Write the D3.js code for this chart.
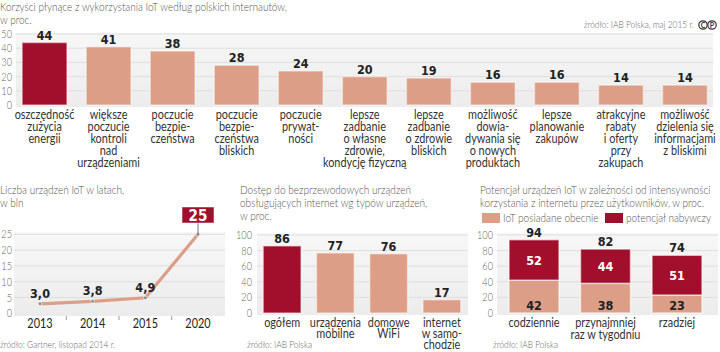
<!DOCTYPE html>
<html>
<head>
<meta charset="utf-8">
<script src="https://cdn.jsdelivr.net/npm/d3@7"></script>
<style>
  body { margin: 0; background: #fff; }
  svg text { font-family: Lato, "DejaVu Sans", sans-serif; }
  .ttl { fill: #555; font-size: 12px; font-weight: 300; }
  .src { fill: #666; font-size: 10px; font-weight: 300; }
  .tick { fill: #666; font-size: 11px; font-weight: 300; }
  .cat { fill: #333; font-size: 13px; font-weight: 400; }
  .num { fill: #222; font-size: 12.5px; font-weight: bold; font-family: "DejaVu Sans Condensed", "DejaVu Sans", sans-serif !important; }
</style>
</head>
<body>
<svg id="chart" width="720" height="352"></svg>
<script>
// data
// ===========================
var benefitLabels = [
  ["oszczędność", "zużycia", "energii"],
  ["większe", "poczucie", "kontroli", "nad", "urządzeniami"],
  ["poczucie", "bezpie-", "czeństwa"],
  ["poczucie", "bezpie-", "czeństwa", "bliskich"],
  ["poczucie", "prywat-", "ności"],
  ["lepsze", "zadbanie", "o własne", "zdrowie,", "kondycję fizyczną"],
  ["lepsze", "zadbanie", "o zdrowie", "bliskich"],
  ["możliwość", "dowia-", "dywania się", "o nowych", "produktach"],
  ["lepsze", "planowanie", "zakupów"],
  ["atrakcyjne", "rabaty", "i oferty", "przy", "zakupach"],
  ["możliwość", "dzielenia się", "informacjami", "z bliskimi"]
];
var benefitValues = [44, 41, 38, 28, 24, 20, 19, 16, 16, 14, 14];
var benefitTicks = [0, 10, 20, 30, 40, 50];

var years = ["2013", "2014", "2015", "2020"];
var devices = [3.0, 3.8, 4.9, 25];
var deviceTicks = [0, 5, 10, 15, 20, 25];

var accessLabels = [["ogółem"], ["urządzenia", "mobilne"], ["domowe", "WiFi"], ["internet", "w samo-", "chodzie"]];
var accessValues = [86, 77, 76, 17];
var pctTicks = [0, 20, 40, 60, 80, 100];

var usageLabels = [["codziennie"], ["przynajmniej", "raz w tygodniu"], ["rzadziej"]];
var owned = [42, 38, 23];
var potential = [52, 44, 51];
var seriesNames = ["IoT posiadane obecnie", "potencjał nabywczy"];

var RED = "#a20f2d";
var SALMON = "#dd9e87";

var svg = d3.select("#chart");
var defs = svg.append("defs");
var grad = defs.append("linearGradient").attr("id", "bg").attr("x1", 0).attr("x2", 0).attr("y1", 0).attr("y2", 1);
grad.append("stop").attr("offset", "0%").attr("stop-color", "#f7f7f7");
grad.append("stop").attr("offset", "100%").attr("stop-color", "#ececec");

// the printed font is a narrow one, so squeeze the text horizontally
// to the width of the first heading (about 287px in the original)
var firstTitle = "Korzyści płynące z wykorzystania IoT według polskich internautów,";
var probe = svg.append("text").attr("class", "ttl").text(firstTitle);
var SX = Math.min(1, 287 / probe.node().getComputedTextLength());
probe.remove();

function T(x, y, str, cls, anchor, sx) {
  var t = svg.append("text").attr("class", cls).attr("text-anchor", anchor || "start")
    .attr("x", x).attr("y", y).text(str);
  var k = sx || SX;
  if (k < 1) {
    t.attr("textLength", t.node().getComputedTextLength() * k)
      .attr("lengthAdjust", "spacingAndGlyphs");
  }
  return t;
}
function title(x, y, lines) {
  lines.forEach(function(t, i) { T(x, y + i * 13, t, "ttl"); });
}
function panel(x0, x1, y0, y1, yScale, ticks, labelX) {
  svg.append("rect").attr("x", x0).attr("y", y0).attr("width", x1 - x0).attr("height", y1 - y0)
    .attr("fill", "url(#bg)");
  svg.selectAll(null).data(ticks.slice(1)).enter().append("line")
    .attr("x1", x0).attr("x2", x1)
    .attr("y1", function(d) { return yScale(d); }).attr("y2", function(d) { return yScale(d); })
    .attr("stroke", "#dedede").attr("stroke-width", 1);
  ticks.forEach(function(d) { T(labelX, yScale(d) + 4, d, "tick", "end"); });
}
function catLabels(cx, y, lines, lh) {
  lines.forEach(function(t, i) { T(cx, y + i * (lh || 12), t, "cat", "middle"); });
}

// Section 1: benefits bar chart
// ===========================
title(0, 10.5, [firstTitle, "w proc."]);
T(694, 28, "źródło: IAB Polska, maj 2015 r.", "src", "end");
// small publisher mark
["C", "P"].forEach(function(ch, i) {
  var cx = 703 + i * 9;
  svg.append("circle").attr("cx", cx).attr("cy", 25).attr("r", 4.2).attr("fill", "none")
    .attr("stroke", "#333").attr("stroke-width", 1.2);
  svg.append("text").attr("x", cx).attr("y", 27.6).attr("text-anchor", "middle")
    .style("font-size", "7px").style("font-weight", "bold").attr("fill", "#333").text(ch);
});

var y1 = d3.scaleLinear().domain([0, 50]).range([105, 34]);
var x1 = d3.scaleBand().domain(d3.range(benefitValues.length)).range([12.5, 717])
  .paddingInner(0.3).paddingOuter(0.15);
panel(16, 713, 33, 107, y1, benefitTicks, 12);

svg.selectAll(null).data(benefitValues).enter().append("rect")
  .attr("x", function(d, i) { return x1(i); })
  .attr("y", function(d) { return y1(d); })
  .attr("width", x1.bandwidth())
  .attr("height", function(d) { return y1(0) - y1(d); })
  .attr("fill", function(d, i) { return i === 0 ? RED : SALMON; })
  .attr("stroke", "#fff").attr("stroke-opacity", 0.45).attr("stroke-width", 1.5);
benefitValues.forEach(function(d, i) {
  T(x1(i) + x1.bandwidth() / 2, y1(d) - 3, d, "num", "middle", 1);
});
benefitLabels.forEach(function(lines, i) {
  catLabels(x1(i) + x1.bandwidth() / 2, 119, lines, 12);
});

// Section 2: devices line chart
// ===========================
title(0, 194, ["Liczba urządzeń IoT w latach,", "w bln"]);
var y2 = d3.scaleLinear().domain([0, 25]).range([313.3, 234.3]);
var x2 = d3.scalePoint().domain(years).range([40, 198]);
panel(14, 225, 232, 316, y2, deviceTicks, 12);

// small ticks between years
var step2 = x2.step();
svg.selectAll(null).data(years.slice(1)).enter().append("line")
  .attr("x1", function(d) { return x2(d) - step2 / 2; })
  .attr("x2", function(d) { return x2(d) - step2 / 2; })
  .attr("y1", 316).attr("y2", 320).attr("stroke", "#999").attr("stroke-width", 1);

var line = d3.line().x(function(d, i) { return x2(years[i]); }).y(function(d) { return y2(d); });
svg.append("path").datum(devices).attr("d", line).attr("fill", "none")
  .attr("stroke", SALMON).attr("stroke-width", 3.2);
svg.selectAll(null).data(devices).enter().append("circle")
  .attr("cx", function(d, i) { return x2(years[i]); })
  .attr("cy", function(d) { return y2(d); })
  .attr("r", 1.8).attr("fill", "#888").attr("stroke", "#fff").attr("stroke-width", 0.6);
years.forEach(function(d) {
  T(x2(d), 328, d, "cat", "middle").style("font-size", "14px").style("fill", "#222");
});

var fmtPl = function(d) { return d3.format(".1f")(d).replace(".", ","); };
devices.forEach(function(d, i) {
  var cx = x2(years[i]);
  if (i === devices.length - 1) {
    svg.append("line").attr("x1", cx).attr("x2", cx).attr("y1", 223).attr("y2", y2(d))
      .attr("stroke", "#777").attr("stroke-width", 1);
    svg.append("rect").attr("x", cx - 16).attr("y", 207).attr("width", 32).attr("height", 16)
      .attr("fill", RED).attr("stroke", "#fff").attr("stroke-opacity", 0.5);
    T(cx, 220.5, d, "num", "middle", 1).style("fill", "#fff").style("font-size", "15px");
  } else {
    T(cx, y2(d) - 6, fmtPl(d), "num", "middle", 1);
  }
});
T(0, 348, "źródło: Gartner, listopad 2014 r.", "src");

// Section 3: access bar chart
// ===========================
title(240, 194, ["Dostęp do bezprzewodowych urządzeń", "obsługujących internet wg typów urządzeń,", "w proc."]);
var y3 = d3.scaleLinear().domain([0, 100]).range([313, 235]);
var x3 = d3.scaleBand().domain(d3.range(accessValues.length)).range([255.5, 468.5])
  .paddingInner(0.29).paddingOuter(0.145);
panel(257, 468, 233, 315, y3, pctTicks, 252);

svg.selectAll(null).data(accessValues).enter().append("rect")
  .attr("x", function(d, i) { return x3(i); })
  .attr("y", function(d) { return y3(d); })
  .attr("width", x3.bandwidth())
  .attr("height", function(d) { return y3(0) - y3(d); })
  .attr("fill", function(d, i) { return i === 0 ? RED : SALMON; })
  .attr("stroke", "#fff").attr("stroke-opacity", 0.45).attr("stroke-width", 1.5);
accessValues.forEach(function(d, i) {
  T(x3(i) + x3.bandwidth() / 2, y3(d) - 3, d, "num", "middle", 1);
});
accessLabels.forEach(function(lines, i) {
  catLabels(x3(i) + x3.bandwidth() / 2, 327, lines, 10.8);
});
T(247, 348, "źródło: IAB Polska", "src");

// Section 4: stacked bar chart
// ===========================
title(480, 194, ["Potencjał urządzeń IoT w zależności od intensywności", "korzystania z internetu przez użytkowników, w proc."]);
[SALMON, RED].forEach(function(c, i) {
  var lx = i === 0 ? 482 : 605;
  svg.append("rect").attr("x", lx).attr("y", 213).attr("width", 18).attr("height", 10).attr("fill", c);
  T(lx + 21, 222, seriesNames[i], "ttl");
});

var y4 = d3.scaleLinear().domain([0, 100]).range([313, 235]);
var x4 = d3.scaleBand().domain(d3.range(owned.length)).range([498.25, 712.75])
  .paddingInner(0.3).paddingOuter(0.15);
panel(497, 718, 233, 315, y4, pctTicks, 493);

var stackData = owned.map(function(d, i) { return { owned: d, potential: potential[i] }; });
var stacked = d3.stack().keys(["owned", "potential"])(stackData);
svg.selectAll(null).data(stacked).enter().append("g")
  .attr("fill", function(d, i) { return i === 0 ? SALMON : RED; })
  .selectAll("rect").data(function(d) { return d; }).enter().append("rect")
  .attr("x", function(d, i) { return x4(i); })
  .attr("y", function(d) { return y4(d[1]); })
  .attr("width", x4.bandwidth())
  .attr("height", function(d) { return y4(d[0]) - y4(d[1]); })
  .attr("stroke", "#fff").attr("stroke-opacity", 0.6).attr("stroke-width", 1.5);

owned.forEach(function(d, i) {
  var cx = x4(i) + x4.bandwidth() / 2;
  T(cx, y4(0) - 3, d, "num", "middle", 1);
  T(cx, y4(d + potential[i] / 2) + 5, potential[i], "num", "middle", 1).style("fill", "#fff");
  T(cx, y4(d + potential[i]) - 3, d + potential[i], "num", "middle", 1);
});
usageLabels.forEach(function(lines, i) {
  catLabels(x4(i) + x4.bandwidth() / 2, 327, lines, 11.5);
});
T(493, 348, "źródło: IAB Polska", "src");
</script>
</body>
</html>
